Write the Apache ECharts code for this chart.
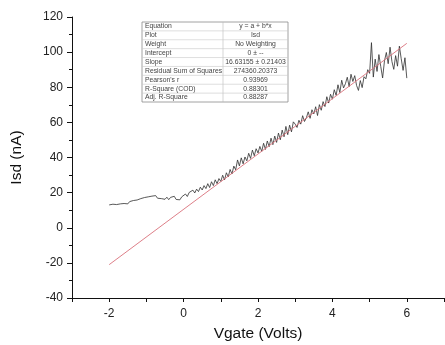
<!DOCTYPE html>
<html><head><meta charset="utf-8">
<script src="https://cdn.jsdelivr.net/npm/echarts@6/dist/echarts.min.js"></script>
<style>html,body{margin:0;padding:0;background:#fff}#c{width:445px;height:345px}</style>
</head><body><div id="c"></div>
<script>
// measured Isd (nA), sampled from Vgate = -2 V to 6 V every 0.05 V
const xStart = -2, xStep = 0.05;
const isdValues = [
 13.0,14.1,13.4,14.4,13.2,14.0,13.6,14.6,13.8,14.5,
 13.6,14.9,14.1,15.5,14.5,15.8,15.1,16.6,15.7,17.2,
 16.1,17.6,16.5,18.0,17.0,18.3,16.8,17.8,16.6,17.5,
 16.2,17.4,16.0,17.3,16.4,17.9,16.1,17.2,15.9,17.6,
 17.0,19.2,17.8,20.1,19.0,21.4,19.8,22.0,20.6,23.1,
 21.5,24.0,22.3,25.1,22.9,26.2,24.0,27.3,25.1,28.0,
 26.4,29.9,27.2,31.3,29.0,33.2,30.6,35.1,33.0,38.6,
 35.2,39.8,36.4,40.3,38.1,42.4,39.5,44.2,41.0,45.0,
 42.6,46.3,43.5,48.1,44.6,49.4,46.2,51.0,47.3,52.2,
 48.6,53.9,50.1,55.6,51.8,57.7,53.0,58.4,54.6,60.3,
 59.0,57.1,61.2,59.0,63.8,60.5,62.6,66.0,62.3,67.2,
 64.8,68.9,63.9,70.1,66.9,71.8,69.0,74.6,71.0,76.0,
 73.2,78.6,75.4,81.4,77.0,84.0,79.6,82.0,85.7,80.4,
 87.4,83.3,86.6,81.0,78.2,83.8,79.8,86.0,84.8,90.0,
 87.9,105.4,85.8,96.0,89.0,98.6,91.8,85.3,95.0,99.8,
 93.4,102.8,94.7,90.2,98.0,92.0,103.4,96.2,89.6,96.8,
 85.2
];
// linear fit endpoints
const fitX = [-2, 6];
const fitY = [-21, 105];
// fit report table
const tableLabels = ["Equation","Plot","Weight","Intercept","Slope","Residual Sum of Squares","Pearson's r","R-Square (COD)","Adj. R-Square"];
const tableValues = ["y = a + b*x","Isd","No Weighting","0 \u00b1 --","16.63155 \u00b1 0.21403","274360.20373","0.93969","0.88301","0.88287"];
const yTicks = {min:-40, max:120, interval:20};
const xRange = {min:-3, max:7};

const measured = isdValues.map((v,i)=>[+(xStart + i*xStep).toFixed(2), v]);
const fitLine = fitX.map((x,i)=>[x, fitY[i]]);

const T = {x:142, y:22, w:146, h:80, split:223};
const rowH = T.h / tableLabels.length;
const g = [];
g.push({type:'rect', shape:{x:T.x,y:T.y,width:T.w,height:T.h}, style:{fill:'#fff',stroke:'#8a8a8a',lineWidth:0.8}, z:100});
g.push({type:'line', shape:{x1:T.split,y1:T.y,x2:T.split,y2:T.y+T.h}, style:{stroke:'#bbb',lineWidth:0.6}, z:101});
for (let i=1;i<tableLabels.length;i++){
  g.push({type:'line', shape:{x1:T.x,y1:T.y+i*rowH,x2:T.x+T.w,y2:T.y+i*rowH}, style:{stroke:'#c8c8c8',lineWidth:0.6}, z:101});
}
tableLabels.forEach((t,i)=>{
  g.push({type:'text', x:T.x+3, y:T.y+i*rowH+rowH/2, style:{text:t, fill:'#444', font:'6.8px "Liberation Sans", Arial, sans-serif', textVerticalAlign:'middle', textAlign:'left'}, z:102});
  g.push({type:'text', x:(T.split+T.x+T.w)/2, y:T.y+i*rowH+rowH/2, style:{text:tableValues[i], fill:'#444', font:'6.8px "Liberation Sans", Arial, sans-serif', textVerticalAlign:'middle', textAlign:'center'}, z:102});
});

const chart = echarts.init(document.getElementById('c'), null, {renderer:'canvas'});
const axisFont = {color:'#222', fontSize:12, fontFamily:'"Liberation Sans", Arial, sans-serif'};
chart.setOption({
  animation:false,
  backgroundColor:'#fff',
  grid:{left:72, right:1, top:17, bottom:47, containLabel:false, outerBoundsMode:'none'},
  xAxis:{
    type:'value', min:xRange.min, max:xRange.max, interval:1,
    name:'Vgate (Volts)', nameLocation:'middle', nameGap:28,
    nameTextStyle:{color:'#111', fontSize:15.5, fontFamily:'"Liberation Sans", Arial, sans-serif'},
    axisLine:{show:true, onZero:false, lineStyle:{color:'#111', width:1}},
    axisTick:{show:true, length:4, lineStyle:{color:'#111'}},
    axisLabel:{...axisFont, margin:10, formatter:v=> (Math.round(v)%2===0 ? String(v) : '')},
    splitLine:{show:false}
  },
  yAxis:{
    type:'value', min:yTicks.min, max:yTicks.max, interval:yTicks.interval,
    name:'Isd (nA)', nameLocation:'middle', nameGap:47, nameRotate:90,
    nameTextStyle:{color:'#111', fontSize:15.5, fontFamily:'"Liberation Sans", Arial, sans-serif'},
    axisLine:{show:true, onZero:false, lineStyle:{color:'#111', width:1}},
    axisTick:{show:true, length:5, lineStyle:{color:'#111'}},
    minorTick:{show:true, splitNumber:2, length:3, lineStyle:{color:'#111'}},
    axisLabel:{...axisFont, margin:9},
    splitLine:{show:false}
  },
  series:[
    {type:'line', data:measured, showSymbol:false, symbol:'none', lineStyle:{color:'#2e2e2e', width:0.8}, z:2},
    {type:'line', data:fitLine, showSymbol:false, symbol:'none', lineStyle:{color:'#d9707a', width:0.9}, z:3}
  ],
  graphic:g
});
</script></body></html>
